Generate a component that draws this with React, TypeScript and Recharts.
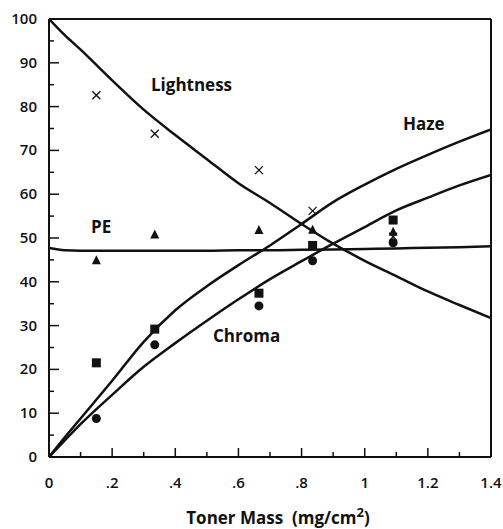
import React from 'react';
import { ComposedChart, Line, Scatter, XAxis, YAxis, Customized } from 'recharts';

// fitted curves
const curveX = [0, 0.05, 0.1, 0.2, 0.3, 0.4, 0.5, 0.6, 0.7, 0.8, 0.9, 1.0, 1.1, 1.2, 1.3, 1.4];
const lightnessFit = [100, 96.3, 93, 86, 79.3, 73.5, 68, 62.5, 58, 53.2, 48.7, 44.8, 41.3, 37.8, 34.7, 31.7];
const hazeFit = [0, 4.5, 8.8, 17.4, 26.3, 33.5, 39, 43.8, 48.3, 53.2, 58.2, 62.2, 65.8, 69, 72, 74.8];
const chromaFit = [0, 3.8, 7.5, 14.2, 20.6, 26, 31.1, 36, 40.6, 44.7, 48.7, 52.5, 56.3, 59.2, 62, 64.4];
const peFit = [47.7, 47.2, 47.1, 47.1, 47.1, 47.1, 47.1, 47.2, 47.2, 47.3, 47.4, 47.5, 47.6, 47.8, 47.9, 48.1];

// measured points
const massX = [0.15, 0.335, 0.665, 0.835, 1.09];
const lightnessPts = [82.6, 73.8, 65.5, 56.2, 50.3];
const pePts = [44.9, 50.8, 51.8, 51.9, 51.4];
const hazePts = [21.5, 29.2, 37.4, 48.3, 54.1];
const chromaPts = [8.8, 25.6, 34.5, 44.8, 48.9];

// ticks (majors get labels, the rest are minor marks)
const xTicks = [0, 0.1, 0.2, 0.3, 0.4, 0.5, 0.6, 0.7, 0.8, 0.9, 1, 1.1, 1.2, 1.3, 1.4];
const xTopTicks = [0.1, 0.2, 0.3, 0.4, 0.5, 0.6, 0.7, 0.8, 0.9, 1, 1.1, 1.2, 1.3];
const yTicks = [0, 5, 10, 15, 20, 25, 30, 35, 40, 45, 50, 55, 60, 65, 70, 75, 80, 85, 90, 95, 100];
const yRightTicks = [5, 10, 15, 20, 25, 30, 35, 40, 45, 50, 55, 60, 65, 70, 75, 80, 85, 90, 95];

const toPts = (xs: number[], ys: number[]) => xs.map((x, i) => ({ x, y: ys[i] }));

const FONT = '"Open Sans", "Noto Sans", sans-serif';
const INK = '#111';

const isXMajor = (v: number) => Math.abs(v * 5 - Math.round(v * 5)) < 1e-6;
const fmtX = (v: number) => (v === 0 ? '0' : v < 1 ? String(v).replace(/^0/, '') : String(v));

const labelStyle = { fontFamily: FONT, fontSize: 15, fontWeight: 600, fill: INK };

const BottomTick = (p: any) => {
    const v = p.payload.value;
    const major = isXMajor(v);
    return (
        <g>
            <line x1={p.x} x2={p.x} y1={p.y} y2={p.y - (major ? 9 : 5)} stroke={INK} strokeWidth={1.5} />
            {major && (
                <text x={p.x} y={p.y + 31} textAnchor="middle" {...labelStyle}>{fmtX(v)}</text>
            )}
        </g>
    );
};
const TopTick = (p: any) => (
    <line x1={p.x} x2={p.x} y1={p.y} y2={p.y + 6} stroke={INK} strokeWidth={1.5} />
);
const LeftTick = (p: any) => {
    const v = p.payload.value;
    const major = v % 10 === 0;
    return (
        <g>
            <line x1={p.x} x2={p.x + (major ? 10 : 5)} y1={p.y} y2={p.y} stroke={INK} strokeWidth={1.5} />
            {major && (
                <text x={p.x - 12} y={p.y + 5} textAnchor="end" {...labelStyle}>{v}</text>
            )}
        </g>
    );
};
const RightTick = (p: any) => (
    <line x1={p.x} x2={p.x - 6} y1={p.y} y2={p.y} stroke={INK} strokeWidth={1.5} />
);

const CrossShape = (p: any) => (
    <g stroke={INK} strokeWidth={1.3}>
        <line x1={p.cx - 4} y1={p.cy - 4} x2={p.cx + 4} y2={p.cy + 4} />
        <line x1={p.cx - 4} y1={p.cy + 4} x2={p.cx + 4} y2={p.cy - 4} />
    </g>
);
const TriShape = (p: any) => (
    <polygon points={`${p.cx},${p.cy - 5} ${p.cx - 4.5},${p.cy + 4} ${p.cx + 4.5},${p.cy + 4}`} fill={INK} />
);
const SquareShape = (p: any) => <rect x={p.cx - 4.5} y={p.cy - 4.5} width={9} height={9} fill={INK} />;
const CircleShape = (p: any) => <circle cx={p.cx} cy={p.cy} r={4.5} fill={INK} />;

const Annotations = () => (
    <g fontFamily={FONT} fontWeight={700} fontSize={17} fill={INK}>
        <text x={151} y={91}>Lightness</text>
        <text x={403} y={130}>Haze</text>
        <text x={91} y={233}>PE</text>
        <text x={213} y={342}>Chroma</text>
        <text x={278} y={524} textAnchor="middle">
            {'Toner Mass\u00a0\u00a0(mg/cm'}<tspan fontSize={13} dy={-7}>2</tspan><tspan dy={7}>)</tspan>
        </text>
    </g>
);

export default function App() {
    const axisLine = { stroke: INK, strokeWidth: 2 };

    return (
        <div style={{ position: 'absolute', left: 0, top: 0, background: '#fff' }}>
            <ComposedChart width={503} height={529} margin={{ top: 0, right: 0, bottom: 0, left: 0 }}>
                <XAxis xAxisId="b" dataKey="x" type="number" domain={[0, 1.4]} ticks={xTicks} interval={0}
                    orientation="bottom" height={72} tickSize={0} tickMargin={0}
                    tick={BottomTick} tickLine={false} axisLine={axisLine} allowDataOverflow />
                <XAxis xAxisId="t" dataKey="x" type="number" domain={[0, 1.4]} ticks={xTopTicks} interval={0}
                    orientation="top" height={19} tickSize={0} tickMargin={0}
                    tick={TopTick} tickLine={false} axisLine={axisLine} />
                <YAxis yAxisId="l" type="number" domain={[0, 100]} ticks={yTicks} interval={0}
                    width={49} tickSize={0} tickMargin={0}
                    tick={LeftTick} tickLine={false} axisLine={axisLine} allowDataOverflow />
                <YAxis yAxisId="r" type="number" domain={[0, 100]} ticks={yRightTicks} interval={0}
                    orientation="right" width={12} tickSize={0} tickMargin={0}
                    tick={RightTick} tickLine={false} axisLine={axisLine} />

                <Line xAxisId="b" yAxisId="l" data={toPts(curveX, lightnessFit)} dataKey="y" type="monotone"
                    stroke={INK} strokeWidth={2.5} dot={false} isAnimationActive={false} />
                <Line xAxisId="b" yAxisId="l" data={toPts(curveX, hazeFit)} dataKey="y" type="monotone"
                    stroke={INK} strokeWidth={2.5} dot={false} isAnimationActive={false} />
                <Line xAxisId="b" yAxisId="l" data={toPts(curveX, chromaFit)} dataKey="y" type="monotone"
                    stroke={INK} strokeWidth={2.5} dot={false} isAnimationActive={false} />
                <Line xAxisId="b" yAxisId="l" data={toPts(curveX, peFit)} dataKey="y" type="monotone"
                    stroke={INK} strokeWidth={2.5} dot={false} isAnimationActive={false} />

                <Scatter xAxisId="b" yAxisId="l" data={toPts(massX, lightnessPts)} dataKey="y"
                    shape={CrossShape} isAnimationActive={false} />
                <Scatter xAxisId="b" yAxisId="l" data={toPts(massX, pePts)} dataKey="y"
                    shape={TriShape} isAnimationActive={false} />
                <Scatter xAxisId="b" yAxisId="l" data={toPts(massX, hazePts)} dataKey="y"
                    shape={SquareShape} isAnimationActive={false} />
                <Scatter xAxisId="b" yAxisId="l" data={toPts(massX, chromaPts)} dataKey="y"
                    shape={CircleShape} isAnimationActive={false} />

                <Customized component={Annotations} />
            </ComposedChart>
        </div>
    );
}
